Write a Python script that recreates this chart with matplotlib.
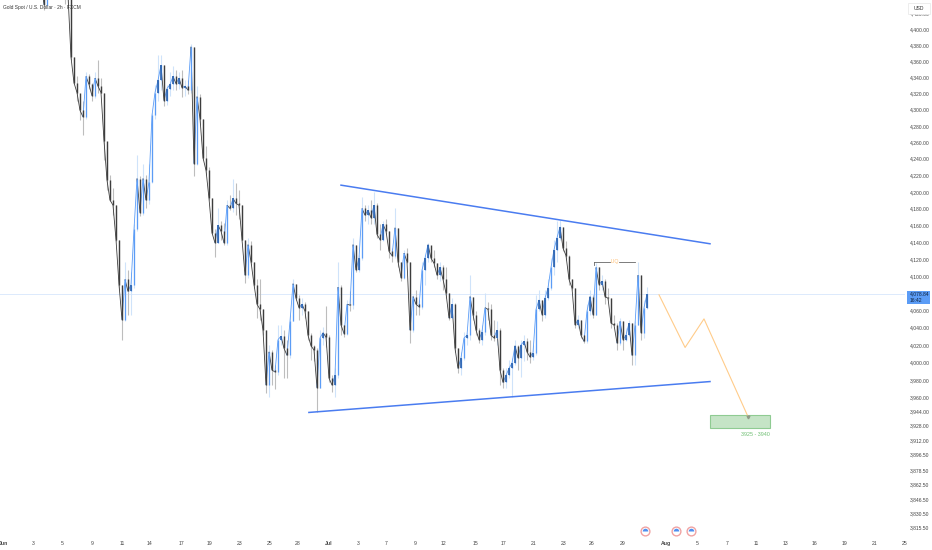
import matplotlib
matplotlib.use("Agg")
import matplotlib.pyplot as plt
import numpy as np
from matplotlib.collections import LineCollection
from matplotlib.markers import MarkerStyle
from matplotlib.patches import Rectangle
from matplotlib.ticker import NullLocator

plt.rcParams['font.family'] = ['Liberation Sans', 'DejaVu Sans']

closes = [4462,4431,4462,4488,4500,4500,4488,4475,4450,4443,4365,4333,4321,4299,4291,4341,4331,4317,4339,4329,
          4321,4262,4214,4190,4184,4143,4090,4049,4096,4082,4090,4155,4216,4175,4216,4190,4212,4293,4321,4336,
          4355,4311,4326,4331,4341,4332,4339,4327,4329,4324,4378,4234,4316,4289,4241,4226,4192,4151,4139,4160,
          4153,4139,4184,4180,4192,4186,4184,4143,4101,4137,4117,4090,4067,4061,4037,3974,4012,3991,3989,4026,
          4030,4016,4008,4047,4091,4074,4063,4067,4059,4031,4019,4014,3971,4028,4034,4029,3982,3974,3985,4087,
          4043,4033,4067,4066,4137,4107,4121,4180,4172,4178,4169,4184,4149,4143,4161,4153,4129,4124,4157,4117,
          4098,4127,4117,4037,4076,4067,4064,4107,4121,4137,4121,4115,4101,4110,4096,4080,4051,4067,4016,3993,
          4005,4028,4031,4076,4055,4037,4026,4035,4063,4061,4031,4028,4037,3991,3977,3985,3993,3999,4019,4005,
          4020,4024,4012,4006,4011,4061,4072,4055,4074,4086,4110,4131,4145,4158,4133,4124,4096,4086,4043,4049,
          4031,4024,4059,4076,4055,4110,4090,4094,4076,4074,4045,4043,4022,4047,4026,4031,4045,4008,4043,4101,
          4034,4063,4078.84]
highs = [4475,4450,4475,4494,4512,4514,4500,4490,4478,4465,4443,4365,4342,4317,4311,4346,4344,4333,4346,4361,
         4339,4321,4258,4220,4204,4184,4143,4090,4117,4107,4105,4161,4244,4219,4233,4220,4234,4296,4330,4368,
         4368,4355,4330,4346,4354,4349,4346,4349,4336,4336,4381,4378,4329,4319,4289,4256,4230,4192,4155,4180,
         4165,4163,4190,4196,4216,4211,4202,4184,4143,4145,4141,4117,4096,4096,4061,4037,4020,4014,3997,4043,
         4043,4037,4026,4055,4096,4091,4078,4074,4070,4059,4034,4020,4016,4037,4041,4065,4031,3985,3993,4117,
         4090,4043,4072,4082,4145,4137,4125,4194,4184,4184,4190,4200,4186,4161,4165,4167,4153,4133,4180,4157,
         4117,4131,4133,4117,4078,4084,4072,4117,4125,4139,4135,4131,4115,4117,4113,4111,4080,4074,4069,4016,
         4012,4035,4034,4101,4076,4059,4039,4043,4080,4070,4067,4049,4047,4039,3993,3993,4003,4005,4026,4020,
         4026,4031,4028,4026,4020,4078,4084,4072,4084,4096,4121,4143,4165,4166,4158,4141,4125,4096,4086,4055,
         4049,4031,4067,4084,4078,4115,4110,4101,4096,4086,4074,4055,4045,4051,4047,4039,4049,4045,4047,4117,
         4101,4072,4087]
lows = [4456,4424,4429,4462,4488,4490,4480,4465,4432,4425,4361,4331,4311,4287,4269,4289,4326,4311,4314,4321,
        4320,4238,4202,4189,4172,4141,4084,4026,4047,4055,4055,4086,4153,4171,4172,4180,4185,4210,4289,4311,
        4324,4305,4306,4317,4324,4324,4326,4316,4317,4319,4321,4219,4232,4281,4238,4220,4190,4149,4122,4143,
        4143,4137,4137,4178,4176,4172,4167,4142,4092,4098,4113,4086,4051,4049,4031,3965,3961,3974,3969,3985,
        4020,3982,3982,4005,4047,4072,4049,4055,4051,4026,4003,4001,3943,3971,4020,4017,3978,3966,3961,3982,
        4031,4029,4031,4059,4061,4105,4105,4119,4165,4161,4161,4161,4145,4131,4141,4149,4121,4117,4121,4110,
        4094,4096,4115,4022,4035,4055,4055,4061,4090,4117,4117,4110,4096,4094,4084,4074,4049,4051,4012,3988,
        3985,4003,4020,4026,4049,4031,4022,4020,4031,4049,4026,4024,4020,3974,3971,3971,3982,3961,3997,3991,
        3983,4001,4003,3999,4003,4008,4059,4047,4051,4072,4084,4101,4117,4143,4129,4119,4090,4084,4039,4039,
        4028,4022,4022,4055,4051,4054,4084,4084,4067,4072,4039,4043,4014,4020,4014,4024,4031,3997,3997,4043,
        4026,4028,4061]

price_ticks = [4420,4400,4380,4360,4340,4320,4300,4280,4260,4240,4220,4200,4180,4160,4140,4120,4100,4060,4040,
               4020,4000,3980,3960,3944,3928,3912,3896.5,3878.5,3862.5,3846.5,3830.5,3815.5]
date_ticks = [-12.4,-2.7,7,17,27,36.3,46.7,56.3,66.3,76.3,85.7,96,105.7,115,124.7,134.3,144.7,154.3,164.3,174.3,
              183.7,194,208.3,218.7,228.7,238.3,248.3,258,268,278,288]
date_labels = ['Jun','3','5','9','11','14','17','19','23','25','28','Jul','3','7','9','12','15','17','21','23',
               '26','29','Aug','5','7','11','13','16','19','21','25']

upper_bars, upper_prices = [100, 223], [4208, 4138]
lower_bars, lower_prices = [89.3, 223], [3943, 3978]
path_bars, path_prices = [206, 214.7, 221, 235.7], [4078, 4017, 4050, 3938]
zone_bars, zone_prices = [223, 243], [3925, 3940]
liq_bars, liq_price = [184.3, 198], 4117
event_bars = [201.3, 211.7, 216.7]

W, H = 932, 550
fig = plt.figure(figsize=(W/100, H/100), dpi=100, facecolor='white')
ax = fig.add_axes([0, 1-536/H, 905/W, 536/H])
ax.set_yscale('log')
ax.set_xlim(-41/3, 864/3)
ax.set_ylim(3806, 4437)

closes = np.array(closes, dtype=float)
highs = np.array(highs, dtype=float)
lows = np.array(lows, dtype=float)
opens = np.r_[4470.0, closes[:-1]]
bars = np.arange(len(closes))
up = closes >= opens

ax.vlines(bars[up], lows[up], highs[up], color='#cfe3fa', lw=0.8, zorder=2)
ax.vlines(bars[~up], lows[~up], highs[~up], color='#bdbdbd', lw=0.8, zorder=2)

# bars are thinned, so a thin link joins each close to the next like the dense original
segs = [[(b-1, o), (b, c)] for b, o, c in zip(bars, opens, closes)]
body_cols = ['#5b9cf6' if u else '#3d3d3d' for u in up]
ax.add_collection(LineCollection(segs, colors=body_cols, linewidths=0.6, zorder=3))
ax.vlines(bars[up], opens[up], closes[up], color='#5b9cf6', lw=0.9, zorder=3)
ax.vlines(bars[~up], opens[~up], closes[~up], color='#3d3d3d', lw=1.0, zorder=3)
small_up = up & (closes-opens < 22)
ax.vlines(bars[small_up], opens[small_up], closes[small_up], color='#2b62ad', lw=1.2, zorder=3)

# last price line
ax.axhline(closes[-1], color='#dceafc', lw=0.7, zorder=1)

# triangle and projected move
ax.plot(upper_bars, upper_prices, color='#4a7cf0', lw=1.1, zorder=4)
ax.plot(lower_bars, lower_prices, color='#4a7cf0', lw=1.1, zorder=4)
ax.plot(path_bars, path_prices, color='#ffcc8a', lw=0.8, zorder=4)
ax.plot(path_bars[-1], path_prices[-1], marker='v', ms=2, color='#8f9a86', zorder=5)
ax.add_patch(Rectangle((zone_bars[0], zone_prices[0]), zone_bars[1]-zone_bars[0], zone_prices[1]-zone_prices[0],
                       fc='#c5e4c6', ec='#8fcb92', lw=0.8, zorder=3))
ax.text(zone_bars[1], 3921.5, '3925 - 3940', color='#6fbf73', fontsize=3.9, ha='right', va='top')

# liquidity bracket
mid = sum(liq_bars)/2
ax.plot([liq_bars[0], mid-1.5], [liq_price, liq_price], color='#666666', lw=0.6, zorder=4)
ax.plot([mid+1.5, liq_bars[1]], [liq_price, liq_price], color='#666666', lw=0.6, zorder=4)
ax.plot([liq_bars[0], liq_bars[0]], [liq_price, liq_price-4], color='#666666', lw=0.6, zorder=4)
ax.text(mid, liq_price, 'LIQ', color='#ffc27a', fontsize=3.8, ha='center', va='center', zorder=5)

# event markers on the time axis
ev_y = [3811]*len(event_bars)
ax.scatter(event_bars, ev_y, s=40, color='white', edgecolors='#f0a3a3', linewidths=1.0, zorder=5)
ax.scatter(event_bars, ev_y, s=16, marker=MarkerStyle('o', fillstyle='top'), color='#4f8ff0', linewidths=0, zorder=6)

for s in ax.spines.values():
    s.set_visible(False)
ax.yaxis.tick_right()
ax.yaxis.set_minor_locator(NullLocator())
ax.set_yticks(price_ticks)
ax.set_yticklabels([f'{p:,.2f}' for p in price_ticks])
ax.set_xticks(date_ticks)
ax.set_xticklabels(date_labels)
ax.tick_params(axis='y', length=0, pad=3.5, labelsize=3.6, labelcolor='#444444')
ax.tick_params(axis='x', length=0, pad=3.5, labelsize=3.7, labelcolor='#444444')
for lab in ax.get_xticklabels():
    if lab.get_text() in ('Jun', 'Jul', 'Aug'):
        lab.set_fontweight('bold')

fig.text(3/W, 1-7/H, 'Gold Spot / U.S. Dollar · 2h · FXCM', fontsize=3.5, color='#333333', va='center')

# right hand boxes
fig.add_artist(Rectangle((908/W, 1-14/H), 22/W, 11/H, fc='white', ec='#e6e6e6', lw=0.5, transform=fig.transFigure))
fig.text(919/W, 1-8/H, 'USD', fontsize=3.6, color='#333333', ha='center', va='center')
fig.add_artist(Rectangle((907/W, 1-304/H), 23/W, 13/H, fc='#5b9cf6', ec='none', transform=fig.transFigure))
fig.text(910/W, 1-294/H, f'{closes[-1]:,.2f}', fontsize=3.6, color='#10233f', va='center')
fig.text(910/W, 1-300.5/H, '16:42', fontsize=3.6, color='#10233f', va='center')

fig.savefig('out.png', dpi=100)
